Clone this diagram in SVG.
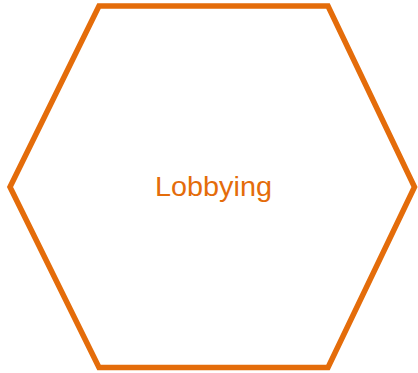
<svg xmlns="http://www.w3.org/2000/svg" width="418" height="373" viewBox="0 0 418 373">
  <style>
    .hex { fill: #FFFFFF; stroke: #E46C0A; stroke-width: 5.5; stroke-linejoin: miter; }
    .lbl { font-family: "Liberation Sans", Arial, sans-serif; font-size: 27px; fill: #E46C0A; }
  </style>
  <rect width="418" height="373" fill="#FFFFFF"/>
  <g id="node-lobbying">
    <polygon class="hex" points="99,6 328,6 414.5,187 328,367.5 99,367.5 10,187"/>
    <text class="lbl" x="213.5" y="196" text-anchor="middle" textLength="117" lengthAdjust="spacingAndGlyphs">Lobbying</text>
  </g>
  <g id="connectors"></g>
</svg>
